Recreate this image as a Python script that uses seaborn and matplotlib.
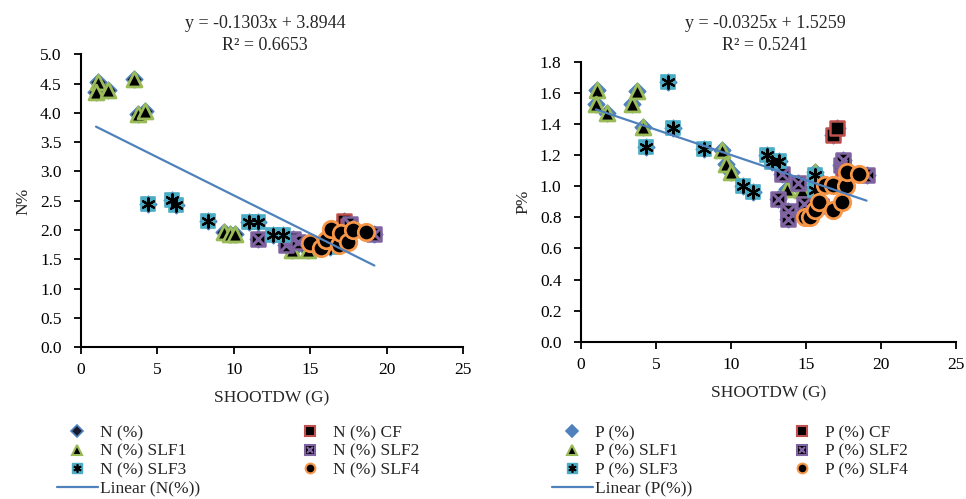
import numpy as np
import matplotlib
matplotlib.use("Agg")
import matplotlib.pyplot as plt
import seaborn as sns
from matplotlib.lines import Line2D
from matplotlib.legend_handler import HandlerTuple

# ---- N (%) panel data (SHOOTDW in g) ----
n_cf_x = [17.2, 17.5]
n_cf_y = [2.16, 2.06]
n_slf1_x = [1.13, 0.98, 1.79, 3.46, 3.75, 4.18, 9.37, 9.78, 10.07, 13.81, 14.86]
n_slf1_y = [4.53, 4.36, 4.40, 4.58, 3.99, 4.04, 1.97, 1.94, 1.94, 1.66, 1.66]
n_slf2_x = [11.59, 13.44, 13.88, 14.2, 17.58, 19.2]
n_slf2_y = [1.85, 1.74, 1.85, 1.80, 2.11, 1.94]
n_slf3_x = [4.40, 5.93, 6.19, 8.28, 10.98, 11.59, 12.57, 13.22, 16.27]
n_slf3_y = [2.44, 2.52, 2.42, 2.15, 2.13, 2.13, 1.92, 1.92, 1.71]
n_slf4_x = [15.01, 15.73, 16.06, 16.39, 16.88, 17.0, 17.47, 17.8, 18.63]
n_slf4_y = [1.78, 1.70, 1.83, 2.01, 1.74, 1.95, 1.80, 2.0, 1.97]
n_fit = [-0.1303, 3.8944]
n_r2 = 0.6653

# ---- P (%) panel data ----
p_cf_x = [16.78, 17.09, 17.45]
p_cf_y = [1.33, 1.375, 1.12]
p_slf1_x = [1.04, 1.0, 1.71, 3.38, 3.76, 4.11, 9.38, 9.67, 10.0, 13.76, 14.71, 15.6]
p_slf1_y = [1.62, 1.53, 1.47, 1.53, 1.61, 1.38, 1.23, 1.14, 1.09, 0.98, 0.975, 1.09]
p_slf2_x = [13.16, 13.42, 13.78, 13.78, 14.49, 14.87, 16.0, 17.33, 17.49, 19.04]
p_slf2_y = [0.917, 1.08, 0.84, 0.79, 1.02, 0.885, 0.87, 1.135, 1.17, 1.07]
p_slf3_x = [4.31, 5.82, 6.11, 8.2, 10.78, 11.49, 12.38, 12.71, 13.22, 15.6, 15.6]
p_slf3_y = [1.25, 1.67, 1.375, 1.24, 1.0, 0.965, 1.2, 1.157, 1.163, 1.07, 0.975]
p_slf4_x = [14.93, 15.25, 15.6, 15.89, 16.27, 16.78, 16.82, 17.38, 17.67, 17.71, 18.56]
p_slf4_y = [0.80, 0.80, 0.85, 0.90, 1.007, 1.007, 0.846, 0.90, 1.0, 1.09, 1.08]
p_fit = [-0.0325, 1.5259]
p_r2 = 0.5241

# Excel 2007 palette
BLUE, RED, GREEN, PURPLE, AQUA, ORANGE = "#4F81BD", "#C0504D", "#9BBB59", "#8064A2", "#4BACC6", "#F79646"

sns.set_style("ticks")
plt.rcParams["font.family"] = ["Liberation Serif", "DejaVu Serif"]
plt.rcParams["font.size"] = 12.5

fig = plt.figure(figsize=(9.66, 4.99), dpi=100)
ax1 = fig.add_axes([0.0839, 0.3046, 0.3954, 0.5862])
ax2 = fig.add_axes([0.6014, 0.3152, 0.3882, 0.5610])


def draw_panel(ax, groups, fit, diamond_face):
    all_x = np.concatenate([g[0] for g in groups])
    all_y = np.concatenate([g[1] for g in groups])
    # the pooled series sits behind everything
    sns.scatterplot(x=all_x, y=all_y, ax=ax, marker="D", s=70, color=diamond_face,
                    edgecolor=BLUE, linewidth=1.2, zorder=2)
    cf, slf1, slf2, slf3, slf4 = groups
    sns.scatterplot(x=cf[0], y=cf[1], ax=ax, marker="s", s=110, color="black",
                    edgecolor=RED, linewidth=1.8, zorder=3)
    sns.scatterplot(x=slf1[0], y=slf1[1], ax=ax, marker="^", s=115, color="black",
                    edgecolor=GREEN, linewidth=2.0, zorder=3)
    sns.scatterplot(x=slf2[0], y=slf2[1], ax=ax, marker="s", s=110, color="black",
                    edgecolor=PURPLE, linewidth=1.8, zorder=4)
    sns.scatterplot(x=slf2[0], y=slf2[1], ax=ax, marker="x", s=70, color=PURPLE,
                    linewidth=2.2, zorder=4)
    sns.scatterplot(x=slf3[0], y=slf3[1], ax=ax, marker="s", s=110, color=AQUA,
                    edgecolor=AQUA, linewidth=1.2, zorder=5)
    sns.scatterplot(x=slf3[0], y=slf3[1], ax=ax, marker=(6, 2, 0), s=80, color="black",
                    linewidth=1.6, zorder=5)
    sns.scatterplot(x=slf4[0], y=slf4[1], ax=ax, marker="o", s=140, color="black",
                    edgecolor=ORANGE, linewidth=2.0, zorder=6)
    # linear trendline over the pooled x range
    xs = np.array([all_x.min(), all_x.max()])
    sns.lineplot(x=xs, y=fit[0] * xs + fit[1], ax=ax, color=BLUE, linewidth=1.6, zorder=7)


draw_panel(ax1, [(n_cf_x, n_cf_y), (n_slf1_x, n_slf1_y), (n_slf2_x, n_slf2_y),
                 (n_slf3_x, n_slf3_y), (n_slf4_x, n_slf4_y)], n_fit, "#1a1a2e")
draw_panel(ax2, [(p_cf_x, p_cf_y), (p_slf1_x, p_slf1_y), (p_slf2_x, p_slf2_y),
                 (p_slf3_x, p_slf3_y), (p_slf4_x, p_slf4_y)], p_fit, BLUE)

for ax, ymax, ystep in [(ax1, 5.0, 0.5), (ax2, 1.8, 0.2)]:
    ax.set_xlim(0, 25)
    ax.set_ylim(0, ymax)
    ax.set_xticks(np.arange(0, 26, 5))
    ax.set_yticks(np.arange(0, ymax + 0.001, ystep))
    ax.set_yticklabels([f"{v:.1f}" for v in np.arange(0, ymax + 0.001, ystep)])
    ax.set_xlabel("SHOOTDW (G)", fontsize=12.5, labelpad=9)
    ax.set_ylabel("")
    for sp in ["top", "right"]:
        ax.spines[sp].set_visible(False)
    for sp in ["left", "bottom"]:
        ax.spines[sp].set_linewidth(1.5)
        ax.spines[sp].set_color("black")
    ax.tick_params(direction="out", length=5, width=1.3, pad=6, colors="black", labelsize=12.5)
    ax.tick_params(axis="y", pad=9)

fig.text(23 / 966, 1 - 201 / 499, "N%", rotation=90, ha="center", va="center", fontsize=12.5)
fig.text(523 / 966, 1 - 202 / 499, "P%", rotation=90, ha="center", va="center", fontsize=12.5)

fig.text(265 / 966, 1 - 24 / 499, f"y = {n_fit[0]:.4f}x + {n_fit[1]:.4f}", ha="center", va="center", fontsize=13)
fig.text(265 / 966, 1 - 45 / 499, f"R² = {n_r2:.4f}", ha="center", va="center", fontsize=13)
fig.text(765 / 966, 1 - 24 / 499, f"y = {p_fit[0]:.4f}x + {p_fit[1]:.4f}", ha="center", va="center", fontsize=13)
fig.text(765 / 966, 1 - 45 / 499, f"R² = {p_r2:.4f}", ha="center", va="center", fontsize=13)


def legend_handles(diamond_face):
    ms = 7
    h_all = Line2D([], [], marker="D", ls="none", ms=ms - 1, mfc=diamond_face, mec=BLUE, mew=1.2)
    h_cf = Line2D([], [], marker="s", ls="none", ms=ms, mfc="black", mec=RED, mew=1.5)
    h_s1 = Line2D([], [], marker="^", ls="none", ms=ms, mfc="black", mec=GREEN, mew=1.5)
    h_s2 = (Line2D([], [], marker="s", ls="none", ms=ms, mfc="black", mec=PURPLE, mew=1.5),
            Line2D([], [], marker="x", ls="none", ms=ms - 2, mec=PURPLE, mew=1.6))
    h_s3 = (Line2D([], [], marker="s", ls="none", ms=ms, mfc=AQUA, mec=AQUA, mew=1.0),
            Line2D([], [], marker=(6, 2, 0), ls="none", ms=ms - 1, mec="black", mew=1.2))
    h_s4 = Line2D([], [], marker="o", ls="none", ms=ms, mfc="black", mec=ORANGE, mew=1.5)
    h_lin = Line2D([], [], color=BLUE, lw=1.6)
    return [h_all, h_s1, h_s3, h_lin, h_cf, h_s2, h_s4]


for ax, v, left, face in [(ax1, "N", 57 / 966, "#1a1a2e"), (ax2, "P", 552 / 966, BLUE)]:
    labels = [f"{v} (%)", f"{v} (%) SLF1", f"{v} (%) SLF3", f"Linear ({v}(%))",
              f"{v} (%) CF", f"{v} (%) SLF2", f"{v} (%) SLF4"]
    ax.legend(legend_handles(face), labels, ncol=2, frameon=False, loc="upper left",
              bbox_to_anchor=(left, 1 - 425 / 499), bbox_transform=fig.transFigure,
              borderpad=0, borderaxespad=0, labelspacing=0.14, handlelength=2.35,
              handletextpad=0.15, columnspacing=5.15, fontsize=12.5,
              handler_map={tuple: HandlerTuple(ndivide=1)})

fig.savefig("out.png", dpi=100)
